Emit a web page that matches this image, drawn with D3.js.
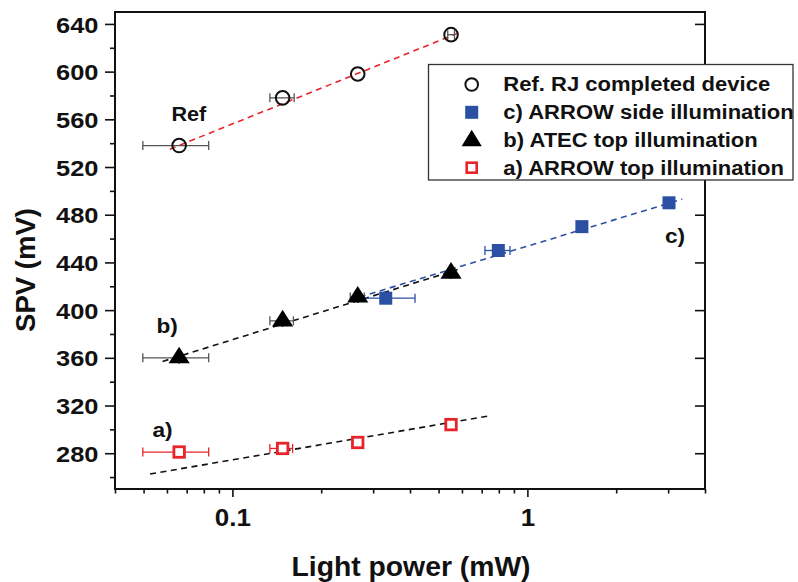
<!DOCTYPE html>
<html><head><meta charset="utf-8">
<script src="https://cdn.jsdelivr.net/npm/d3@7"></script>
<style>
body{margin:0;background:#fff;}
svg text{font-family:"Liberation Sans",Arial,sans-serif;font-weight:bold;fill:#111;}
</style></head>
<body>
<svg id="chart" width="798" height="582"></svg>
<script>
// ---- data ----
const refX = [0.066, 0.148, 0.266, 0.551];
const refY = [538, 578, 598, 631];
const refXLo = [0.0497, 0.134, 0.266, 0.537];
const refXHi = [0.0831, 0.162, 0.266, 0.566];

const atecX = [0.066, 0.148, 0.266, 0.551];
const atecY = [360, 391, 411, 431];
const atecXLo = [0.0497, 0.134, 0.251, 0.540];
const atecXHi = [0.0831, 0.161, 0.280, 0.562];
const atecYErr = [5, 5, 5, 5];

const sideX = [0.331, 0.797, 1.53, 3.02];
const sideY = [410, 450, 470, 490];
const sideXLo = [0.267, 0.718, 1.50, 2.97];
const sideXHi = [0.416, 0.873, 1.56, 3.07];

const topX = [0.066, 0.148, 0.266, 0.551];
const topY = [281, 284, 289, 304];
const topXLo = [0.0497, 0.134, 0.262, 0.540];
const topXHi = [0.0831, 0.160, 0.270, 0.560];

const refFitX = [0.0614, 0.598], refFitY = [535, 633.5];
const atecFitX = [0.058, 0.58], atecFitY = [357, 434];
const sideFitX = [0.27, 3.35], sideFitY = [411, 493];
const topFitX = [0.0526, 0.737], topFitY = [262.6, 311.2];

const xMajor = [0.1, 1];
const xMinor = [0.04,0.05,0.06,0.07,0.08,0.09,0.2,0.3,0.4,0.5,0.6,0.7,0.8,0.9,2,3,4];
const yMajor = [280,320,360,400,440,480,520,560,600,640];
const yMinor = [260,300,340,380,420,460,500,540,580,620];

const legendLabels = ["Ref. RJ completed device","c) ARROW side illumination","b) ATEC top illumination","a) ARROW top illumination"];

// ---- layout ----
const L = 115, R = 705, T = 12, B = 489;
const SX = 1.13;
const RED = "#e8232a", BLUE = "#2a4fa3", GREY = "#555";

const svg = d3.select("#chart");
const x = d3.scaleLog().domain([0.04, 4]).range([L, R]);
const y = d3.scaleLinear().domain([250, 650]).range([B, T]);

// axes
const gx = svg.append("g").attr("transform", `translate(0,${B})`)
  .call(d3.axisBottom(x).tickValues(xMajor).tickFormat(d3.format("")).tickSize(8).tickSizeOuter(0));
gx.select(".domain").remove();
gx.selectAll("line").attr("stroke","#111").attr("stroke-width",1.6);
gx.selectAll("text").attr("font-size","23px").attr("y",37).attr("dy",0)
  .attr("transform",`scale(${SX},1)`);
const gxm = svg.append("g").attr("transform", `translate(0,${B})`)
  .call(d3.axisBottom(x).tickValues(xMinor).tickFormat("").tickSize(4.5).tickSizeOuter(0));
gxm.select(".domain").remove();
gxm.selectAll("line").attr("stroke","#111").attr("stroke-width",1.6);

const gy = svg.append("g").attr("transform", `translate(${L},0)`)
  .call(d3.axisLeft(y).tickValues(yMajor).tickFormat(d3.format("d")).tickSize(10).tickSizeOuter(0));
gy.select(".domain").remove();
gy.selectAll("line").attr("stroke","#111").attr("stroke-width",1.6);
gy.selectAll("text").attr("font-size","22.5px").attr("x",-16.5/SX).attr("dy","0.36em")
  .attr("transform",`scale(${SX},1)`);
const gym = svg.append("g").attr("transform", `translate(${L},0)`)
  .call(d3.axisLeft(y).tickValues(yMinor).tickFormat("").tickSize(5).tickSizeOuter(0));
gym.select(".domain").remove();
gym.selectAll("line").attr("stroke","#111").attr("stroke-width",1.6);

// mirrored inner ticks
const gr = svg.append("g").attr("transform", `translate(${R},0)`)
  .call(d3.axisLeft(y).tickValues(yMajor).tickFormat("").tickSize(10).tickSizeOuter(0));
gr.select(".domain").remove();
gr.selectAll("line").attr("stroke","#111").attr("stroke-width",1.6);

// frame
svg.append("rect").attr("x",L).attr("y",T).attr("width",R-L).attr("height",B-T)
  .attr("fill","none").attr("stroke","#111").attr("stroke-width",2);

// axis titles
svg.append("text").attr("font-size","27.5px").attr("text-anchor","middle")
  .attr("transform",`translate(411,576) scale(1.03,1)`).text("Light power (mW)");
svg.append("text").attr("font-size","27.5px").attr("text-anchor","middle")
  .attr("transform",`translate(35,270) rotate(-90)`).text("SPV (mV)");

// fit lines
const line = d3.line().x(d=>x(d[0])).y(d=>y(d[1]));
function fit(xs, ys, color){
  svg.append("path").datum(xs.map((v,i)=>[v,ys[i]])).attr("d",line)
    .attr("fill","none").attr("stroke",color).attr("stroke-width",1.6)
    .attr("stroke-dasharray","6,4.5");
}
fit(refFitX, refFitY, RED);
fit(atecFitX, atecFitY, "#111");
fit(sideFitX, sideFitY, BLUE);
fit(topFitX, topFitY, "#111");

// error bars
function xerr(xs, ys, lo, hi, color){
  const g = svg.append("g").attr("stroke",color).attr("stroke-width",1.3);
  xs.forEach((v,i)=>{
    if (lo[i] === hi[i]) return;
    const yy = y(ys[i]);
    g.append("line").attr("x1",x(lo[i])).attr("x2",x(hi[i])).attr("y1",yy).attr("y2",yy);
    g.append("line").attr("x1",x(lo[i])).attr("x2",x(lo[i])).attr("y1",yy-4.5).attr("y2",yy+4.5);
    g.append("line").attr("x1",x(hi[i])).attr("x2",x(hi[i])).attr("y1",yy-4.5).attr("y2",yy+4.5);
  });
}
function yerr(xs, ys, e, color){
  const g = svg.append("g").attr("stroke",color).attr("stroke-width",1.3);
  xs.forEach((v,i)=>{
    g.append("line").attr("x1",x(v)).attr("x2",x(v)).attr("y1",y(ys[i]-e[i])).attr("y2",y(ys[i]+e[i]));
  });
}
xerr(refX, refY, refXLo, refXHi, GREY);
xerr(atecX, atecY, atecXLo, atecXHi, GREY);
yerr(atecX, atecY, atecYErr, "#111");
xerr(sideX, sideY, sideXLo, sideXHi, BLUE);
xerr(topX, topY, topXLo, topXHi, RED);

// markers
const tri = d3.symbol().type(d3.symbolTriangle).size(160);
function circles(xs, ys){
  svg.append("g").selectAll("circle").data(xs).join("circle")
    .attr("cx",d=>x(d)).attr("cy",(d,i)=>y(ys[i])).attr("r",6.8)
    .attr("fill","none").attr("stroke","#111").attr("stroke-width",2);
}
function squares(xs, ys, s, fill, stroke, sw){
  svg.append("g").selectAll("rect").data(xs).join("rect")
    .attr("x",d=>x(d)-s/2).attr("y",(d,i)=>y(ys[i])-s/2).attr("width",s).attr("height",s)
    .attr("fill",fill).attr("stroke",stroke).attr("stroke-width",sw);
}
function triangles(xs, ys){
  svg.append("g").selectAll("path").data(xs).join("path")
    .attr("d",tri).attr("transform",(d,i)=>`translate(${x(d)},${y(ys[i])}) scale(1.1,1)`)
    .attr("fill","#000");
}
circles(refX, refY);
triangles(atecX, atecY);
squares(sideX, sideY, 13, BLUE, "none", 0);
squares(topX, topY, 10.5, "#fff", RED, 2.8);

// annotations
function label(txt, px, py, fs){
  svg.append("text").attr("font-size",fs+"px")
    .attr("transform",`translate(${px},${py}) scale(1.08,1)`).text(txt);
}
label("Ref", 171.5, 121, 20);
label("b)", 156.5, 333, 21);
label("a)", 152.5, 437, 21);
label("c)", 665, 243, 21);

// legend
const lg = svg.append("g");
lg.append("rect").attr("x",428.5).attr("y",64.5).attr("width",364.5).attr("height",115.5)
  .attr("fill","#fff").attr("stroke","#333").attr("stroke-width",1.3);
const rowY = [84.5, 112.3, 139.8, 167.7];
const sx = 471.7;
lg.append("circle").attr("cx",sx).attr("cy",rowY[0]).attr("r",6.3).attr("fill","none").attr("stroke","#111").attr("stroke-width",2);
lg.append("rect").attr("x",sx-6.5).attr("y",rowY[1]-6.5).attr("width",13).attr("height",13).attr("fill",BLUE);
lg.append("path").attr("d",tri).attr("transform",`translate(${sx},${rowY[2]+1}) scale(1.05,1)`).attr("fill","#000");
lg.append("rect").attr("x",sx-5).attr("y",rowY[3]-5).attr("width",10).attr("height",10).attr("fill","#fff").attr("stroke",RED).attr("stroke-width",2.6);
legendLabels.forEach((t,i)=>{
  lg.append("text").attr("font-size","19.5px")
    .attr("transform",`translate(503.3,${rowY[i]+6.8}) scale(${SX},1)`).text(t);
});
</script>
</body></html>
